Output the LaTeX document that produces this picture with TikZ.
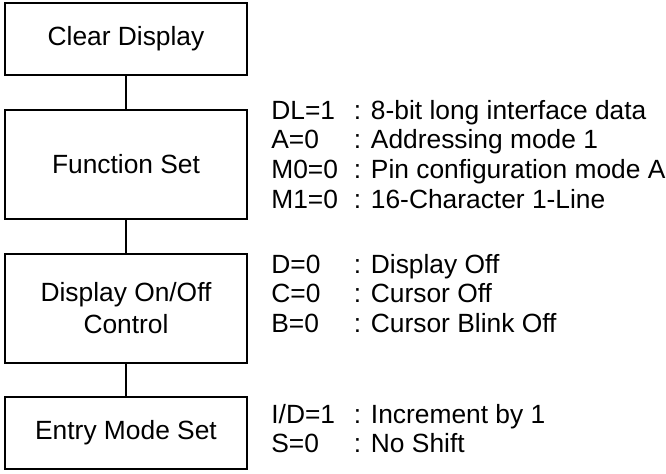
\documentclass[tikz,border=0pt]{standalone}
\usepackage{fontspec}
\setmainfont{Liberation Sans}
\usepackage{array}

\begin{document}
\begin{tikzpicture}[
  stepbox/.style={draw, line width=1.1pt, minimum width=4.84cm, inner sep=0pt,
    align=center, font=\fontsize{15}{18.2}\selectfont},
  info/.style={anchor=base west, inner sep=0pt, font=\fontsize{15}{17}\selectfont},
  link/.style={line width=1.1pt}
]
\useasboundingbox (0,0) rectangle (13.32,-9.46);

% the four steps
\node[stepbox, minimum height=1.44cm] (clr) at (2.52,-0.78) {Clear Display};
\node[stepbox, minimum height=2.18cm] (fset) at (2.52,-3.29) {Function Set};
\node[stepbox, minimum height=2.18cm] (dctrl) at (2.52,-6.17) {Display On/Off\\Control};
\node[stepbox, minimum height=1.44cm] (emode) at (2.52,-8.66) {Entry Mode Set};

\draw[link] (clr) -- (fset);
\draw[link] (fset) -- (dctrl);
\draw[link] (dctrl) -- (emode);

% settings beside the steps
\node[info] (fsetinfo) at (5.42,-2.38) {\begin{tabular}[t]{@{}p{1.65cm}@{}l@{}}
DL=1 & : 8-bit long interface data\\
A=0 & : Addressing mode 1\\
M0=0 & : Pin configuration mode A\\
M1=0 & : 16-Character 1-Line
\end{tabular}};
\node[info] (dctrlinfo) at (5.42,-5.46) {\begin{tabular}[t]{@{}p{1.65cm}@{}l@{}}
D=0 & : Display Off\\
C=0 & : Cursor Off\\
B=0 & : Cursor Blink Off
\end{tabular}};
\node[info] (emodeinfo) at (5.42,-8.46) {\begin{tabular}[t]{@{}p{1.65cm}@{}l@{}}
I/D=1 & : Increment by 1\\
S=0 & : No Shift
\end{tabular}};
\end{tikzpicture}
\end{document}
